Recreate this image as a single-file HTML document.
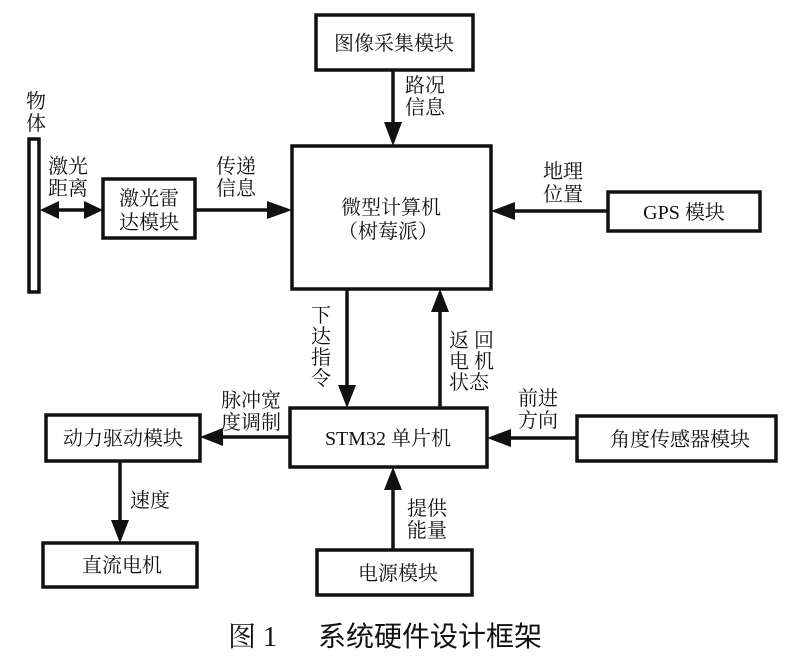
<!DOCTYPE html>
<html><head><meta charset="utf-8"><style>
html,body{margin:0;padding:0;background:#fff}
svg{display:block}
text{font-family:"Liberation Serif","Noto Serif CJK SC","Noto Sans CJK SC",serif;fill:#111}
</style></head><body>
<svg width="800" height="670" viewBox="0 0 800 670" xmlns="http://www.w3.org/2000/svg">
<g fill="none" stroke="#111" stroke-width="3.5">
<rect x="316" y="15" width="157" height="55"/>
<rect x="29" y="139" width="10" height="153"/>
<rect x="103" y="179" width="92" height="59"/>
<rect x="292" y="146" width="199" height="143"/>
<rect x="608" y="192" width="152" height="39"/>
<rect x="290" y="408" width="197" height="59"/>
<rect x="46" y="415" width="154" height="46"/>
<rect x="577" y="416" width="199" height="45"/>
<rect x="43" y="543" width="154" height="44"/>
<rect x="317" y="550" width="155" height="45"/>
<line x1="393" y1="70" x2="393" y2="125"/>
<line x1="195" y1="210" x2="270" y2="210"/>
<line x1="608" y1="211" x2="512" y2="211"/>
<line x1="347" y1="289" x2="347" y2="387"/>
<line x1="440" y1="408" x2="440" y2="310"/>
<line x1="290" y1="437" x2="220" y2="437"/>
<line x1="577" y1="438" x2="508" y2="438"/>
<line x1="393" y1="550" x2="393" y2="488"/>
<line x1="120" y1="461" x2="120" y2="522"/>
<line x1="55" y1="210" x2="88" y2="210"/>
</g>
<g fill="#111">
<polygon points="384,122 402,122 393,146"/>
<polygon points="267,201 267,219 292,210"/>
<polygon points="515,202 515,220 491,211"/>
<polygon points="338,385 356,385 347,408"/>
<polygon points="431,312 449,312 440,289"/>
<polygon points="223,428 223,446 200,437"/>
<polygon points="511,429 511,447 487,438"/>
<polygon points="384,490 402,490 393,467"/>
<polygon points="111,520 129,520 120,543"/>
<polygon points="59,201 59,219 40,210"/>
<polygon points="84,201 84,219 103,210"/>
</g>
<g font-size="20">
<text x="394" y="50" text-anchor="middle">图像采集模块</text>
<text x="149" y="205" text-anchor="middle">激光雷</text>
<text x="149" y="229" text-anchor="middle">达模块</text>
<text x="391" y="214" text-anchor="middle">微型计算机</text>
<text x="388" y="238" text-anchor="middle">（树莓派）</text>
<text x="684" y="219" text-anchor="middle">GPS 模块</text>
<text x="388" y="445" text-anchor="middle">STM32 单片机</text>
<text x="123" y="445" text-anchor="middle">动力驱动模块</text>
<text x="680" y="446" text-anchor="middle">角度传感器模块</text>
<text x="122" y="572" text-anchor="middle">直流电机</text>
<text x="398" y="580" text-anchor="middle">电源模块</text>
<text x="26" y="108">物</text>
<text x="26" y="130">体</text>
<text x="48" y="173">激光</text>
<text x="48" y="195">距离</text>
<text x="216" y="173">传递</text>
<text x="216" y="195">信息</text>
<text x="405" y="92">路况</text>
<text x="405" y="114">信息</text>
<text x="543" y="178">地理</text>
<text x="543" y="201">位置</text>
<text x="311" y="322">下</text>
<text x="311" y="343">达</text>
<text x="311" y="364">指</text>
<text x="311" y="385">令</text>
<text x="449" y="347">返 回</text>
<text x="449" y="368">电 机</text>
<text x="449" y="389">状态</text>
<text x="221" y="407">脉冲宽</text>
<text x="221" y="429">度调制</text>
<text x="518" y="405">前进</text>
<text x="518" y="427">方向</text>
<text x="130" y="507">速度</text>
<text x="407" y="515">提供</text>
<text x="407" y="537">能量</text>
</g>
<text x="228" y="646" font-size="28">图 1</text>
<text x="318" y="646" font-size="28" style="font-family:'Noto Sans CJK SC',sans-serif">系统硬件设计框架</text>
</svg>
</body></html>
